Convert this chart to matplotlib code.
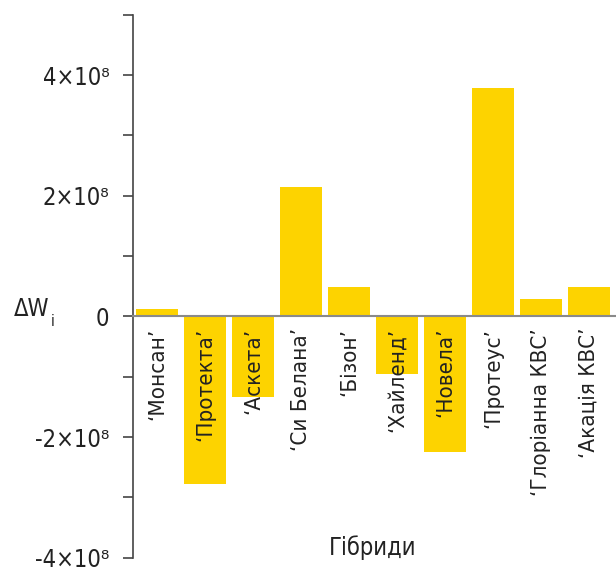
import numpy as np
import matplotlib.pyplot as plt
from matplotlib.ticker import FixedLocator

hybrids = ["‘Монсан’", "‘Протекта’", "‘Аскета’", "‘Си Белана’", "‘Бізон’",
           "‘Хайленд’", "‘Новела’", "‘Протеус’", "‘Глоріанна КВС’", "‘Акація КВС’"]
delta_w = [0.12e8, -2.78e8, -1.33e8, 2.14e8, 0.49e8,
           -0.96e8, -2.25e8, 3.79e8, 0.29e8, 0.49e8]
tick_vals = [-4e8, -2e8, 0, 2e8, 4e8]
tick_labels = ["-4×10⁸", "-2×10⁸", "0", "2×10⁸", "4×10⁸"]

plt.rcParams['font.family'] = ['DejaVu Sans']
plt.rcParams['font.stretch'] = 'condensed'

fig = plt.figure(figsize=(6.16, 5.67), dpi=100)
ax = fig.add_axes([133 / 616, 1 - 557.7 / 567, 480 / 616, 543 / 567])

xs = np.arange(len(hybrids))
ax.bar(xs, delta_w, width=0.875, color='#FDD300', zorder=2)
ax.axhline(0, color='#8a8a8a', lw=1.5, zorder=3, clip_on=False, xmax=1.01)

for x, name in zip(xs, hybrids):
    ax.text(x, -0.19e8, name, rotation=90, ha='center', va='top',
            fontsize=16, color='#222222', zorder=4)

ax.set_xlim(-0.5, 9.5)
ax.set_ylim(-4e8, 5e8)
ax.set_xticks([])
ax.yaxis.set_major_locator(FixedLocator(tick_vals))
ax.set_yticklabels(tick_labels)
ax.yaxis.set_minor_locator(FixedLocator([-3e8, -1e8, 1e8, 3e8, 5e8]))
ax.tick_params(axis='y', which='both', direction='out', length=7, width=1.2,
               color='#444444', labelsize=17, labelcolor='#222222', pad=10)

for s in ['top', 'right', 'bottom']:
    ax.spines[s].set_visible(False)
ax.spines['left'].set_color('#444444')
ax.spines['left'].set_linewidth(1.2)

ax.text(0.5, 0.018, "Гібриди", transform=ax.transAxes, ha='center',
        va='center', fontsize=17, color='#222222')
fig.text(14 / 616, 1 - 309 / 567, "ΔW", ha='left', va='center',
         fontsize=17, color='#222222')
fig.text(51 / 616, 1 - 321 / 567, "i", ha='left', va='center',
         fontsize=11, color='#222222')

fig.savefig("out.png", dpi=100)
